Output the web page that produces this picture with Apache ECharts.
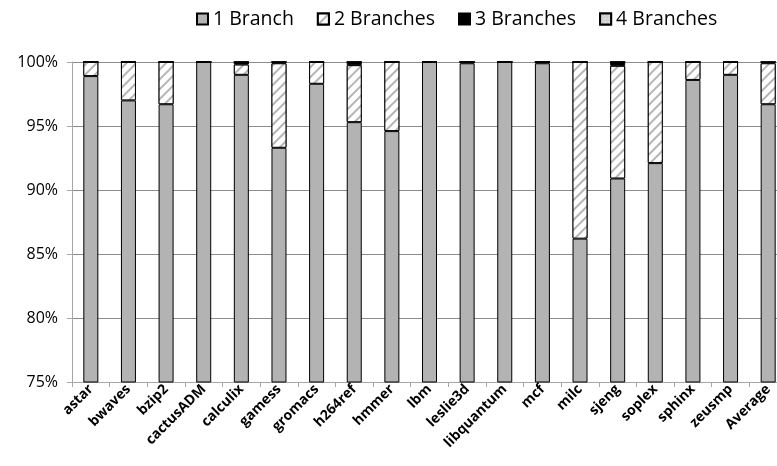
<!DOCTYPE html>
<html>
<head>
<meta charset="utf-8">
<script src="https://cdn.jsdelivr.net/npm/echarts@6/dist/echarts.min.js"></script>
<style>
  html, body { margin: 0; padding: 0; background: #fff; }
  #chart { width: 777px; height: 466px; }
</style>
</head>
<body>
<div id="chart"></div>
<script>
// Benchmarks (SPEC) and the share of dynamic branches by count, in percent
const categories = ['astar', 'bwaves', 'bzip2', 'cactusADM', 'calculix', 'gamess', 'gromacs',
  'h264ref', 'hmmer', 'lbm', 'leslie3d', 'libquantum', 'mcf', 'milc', 'sjeng', 'soplex',
  'sphinx', 'zeusmp', 'Average'];
const branch1 = [98.9, 97.0, 96.7, 100, 99.0, 93.3, 98.3, 95.3, 94.6, 100, 99.9, 100, 99.9, 86.2, 90.9, 92.1, 98.6, 99.0, 96.7];
const branch2 = [1.1, 3.0, 3.3, 0, 0.8, 6.6, 1.7, 4.45, 5.4, 0, 0.1, 0, 0.1, 13.8, 8.8, 7.9, 1.4, 1.0, 3.2];
const branch3 = [0, 0, 0, 0, 0.2, 0.1, 0, 0.25, 0, 0, 0, 0, 0, 0, 0.3, 0, 0, 0, 0.1];
const branch4 = [0, 0, 0, 0, 0, 0, 0, 0, 0, 0, 0, 0, 0, 0, 0, 0, 0, 0, 0];
const yTicks = { min: 75, max: 100, interval: 5 };

const font = '"Open Sans", "Noto Sans", sans-serif';
const border = { borderColor: '#000', borderWidth: 1 };

function bar(name, data, itemStyle) {
  return {
    name, type: 'bar', stack: 'total', data, barWidth: 15,
    itemStyle: Object.assign({}, border, itemStyle)
  };
}

const chart = echarts.init(document.getElementById('chart'), null, { renderer: 'canvas' });
chart.setOption({
  animation: false,
  legend: {
    top: 4, left: 191, itemWidth: 11, itemHeight: 11, itemGap: 23,
    textStyle: { fontFamily: font, fontSize: 19.5, color: '#000' },
    icon: 'rect'
  },
  // the plot area runs slightly past the right edge of the canvas
  grid: { left: 72, width: 715, top: 62, height: 320, outerBoundsMode: 'none', containLabel: false },
  xAxis: {
    type: 'category', data: categories,
    axisLine: { lineStyle: { color: '#a6a6a6' } },
    axisTick: { show: true, length: 5, lineStyle: { color: '#a6a6a6' } },
    axisLabel: {
      interval: 0, rotate: 45, margin: 5, color: '#000',
      fontFamily: font, fontSize: 14, fontWeight: 'bold'
    }
  },
  yAxis: {
    type: 'value', min: yTicks.min, max: yTicks.max, interval: yTicks.interval,
    axisLine: { show: true, lineStyle: { color: '#a6a6a6' } },
    axisTick: { show: true, length: 5, inside: false, lineStyle: { color: '#a6a6a6' } },
    splitLine: { lineStyle: { color: '#8c8c8c' } },
    axisLabel: { formatter: '{value}%', color: '#000', fontFamily: font, fontSize: 16, margin: 14 }
  },
  series: [
    bar('1 Branch', branch1, { color: '#b3b3b3' }),
    bar('2 Branches', branch2, {
      color: '#ffffff',
      decal: {
        symbol: 'rect', color: '#b5b5b5', backgroundColor: '#ffffff',
        dashArrayX: [1, 0], dashArrayY: [2, 5], rotation: -Math.PI / 4
      }
    }),
    bar('3 Branches', branch3, { color: '#000000' }),
    bar('4 Branches', branch4, {
      color: '#e6e6e6',
      decal: {
        symbol: 'rect', color: '#ffffff', backgroundColor: '#d0d0d0',
        symbolSize: 0.6, dashArrayX: [[2, 2]], dashArrayY: [2, 2]
      }
    })
  ]
});
</script>
</body>
</html>
